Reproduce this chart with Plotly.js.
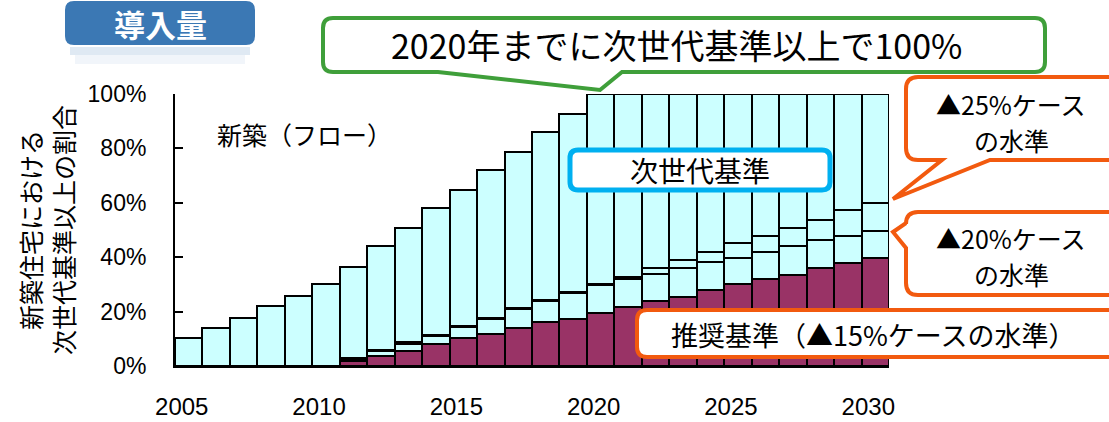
<!DOCTYPE html>
<html>
<head>
<meta charset="utf-8">
<script src="https://cdn.plot.ly/plotly-3.0.1.min.js"></script>
<style>
  html, body { margin: 0; padding: 0; background: #ffffff; }
  #chart { width: 1109px; height: 422px; }
</style>
</head>
<body>
<div id="chart"></div>
<script>
// ---- data (percent of new houses) ----
const years = [2005, 2006, 2007, 2008, 2009, 2010, 2011, 2012, 2013, 2014, 2015, 2016, 2017,
               2018, 2019, 2020, 2021, 2022, 2023, 2024, 2025, 2026, 2027, 2028, 2029, 2030];
// cumulative level reached by the recommended standard (▲15% case)
const level15 = [0, 0, 0, 0, 0, 0, 1.8, 3.7, 5.6, 8.0, 10.2, 11.7, 13.9,
                 16.0, 17.4, 19.6, 21.8, 23.9, 25.5, 27.9, 30.0, 32.0, 33.5, 35.9, 38.0, 39.6];
// cumulative level of the ▲20% case
const level20 = [0, 0, 0, 0, 0, 0, 2.4, 5.4, 8.2, 11.0, 14.4, 17.1, 20.8,
                 23.9, 26.8, 29.7, 32.0, 33.8, 35.9, 38.3, 39.6, 42.0, 44.2, 46.3, 47.9, 49.7];
// cumulative level of the ▲25% case
const level25 = [0, 0, 0, 0, 0, 0, 2.9, 6.0, 8.7, 11.4, 14.8, 17.5, 21.2,
                 24.3, 27.1, 30.1, 32.8, 36.1, 39.0, 42.0, 45.1, 47.9, 50.6, 53.7, 57.4, 60.0];
// total share at or above the next-generation standard
const total = [10.4, 13.9, 17.5, 22.0, 25.7, 30.1, 36.5, 44.2, 50.8, 58.2, 64.7, 72.0, 78.8,
               85.9, 92.6, 100, 100, 100, 100, 100, 100, 100, 100, 100, 100, 100];
const yTicks = [0, 20, 40, 60, 80, 100];
const yTickText = ['0%', '20%', '40%', '60%', '80%', '100%'];
const xTicks = [2005, 2010, 2015, 2020, 2025, 2030];

// ---- style ----
const CYAN = '#ccffff', MAROON = '#993366';
const ORANGE = '#f25a0f', GREEN = '#3f9f3a', BLUE = '#00b0f0';
const CJK = 'Noto Sans CJK JP, Noto Sans, sans-serif';
const LAT = 'Liberation Sans, Arial, sans-serif';

const diff = (a, b) => a.map((v, i) => +(v - b[i]).toFixed(2));
const barLine = { color: '#000000', width: 2 };

const traces = [
  { type: 'bar', x: years, y: level15, marker: { color: MAROON, line: barLine }, name: '推奨基準', hoverinfo: 'skip' },
  { type: 'bar', x: years, y: diff(level20, level15), marker: { color: CYAN, line: barLine }, name: '▲20%', hoverinfo: 'skip' },
  { type: 'bar', x: years, y: diff(level25, level20), marker: { color: CYAN, line: barLine }, name: '▲25%', hoverinfo: 'skip' },
  { type: 'bar', x: years, y: diff(total, level25), marker: { color: CYAN, line: barLine }, name: '次世代基準', hoverinfo: 'skip' }
];

// plot-area geometry in pixels (for annotation/callout placement)
const L = 175, T = 94, W = 714, H = 272;
const px = x => (x - L) / W;
const py = y => (T + H - y) / H;

// rounded-rectangle callout path, with optional tail points
function callout(x0, y0, x1, y1, r, bottomTail, leftTail) {
  const P = (x, y) => px(x).toFixed(5) + ',' + py(y).toFixed(5);
  let d = 'M' + P(x0 + r, y0) + ' L' + P(x1 - r, y0) + ' Q' + P(x1, y0) + ' ' + P(x1, y0 + r) +
          ' L' + P(x1, y1 - r) + ' Q' + P(x1, y1) + ' ' + P(x1 - r, y1);
  (bottomTail || []).forEach(p => { d += ' L' + P(p[0], p[1]); });
  d += ' L' + P(x0 + r, y1) + ' Q' + P(x0, y1) + ' ' + P(x0, y1 - r);
  (leftTail || []).forEach(p => { d += ' L' + P(p[0], p[1]); });
  d += ' L' + P(x0, y0 + r) + ' Q' + P(x0, y0) + ' ' + P(x0 + r, y0) + ' Z';
  return d;
}

const shapes = [
  // 導入量 header box and faint reflection
  { type: 'path', xref: 'paper', yref: 'paper', layer: 'above', path: callout(65, 1, 255, 45, 9),
    fillcolor: '#3b78b4', line: { width: 0 } },
  { type: 'rect', xref: 'paper', yref: 'paper', layer: 'above', x0: px(70), x1: px(250), y0: py(47), y1: py(55),
    fillcolor: 'rgba(59,120,180,0.16)', line: { width: 0 } },
  { type: 'rect', xref: 'paper', yref: 'paper', layer: 'above', x0: px(75), x1: px(245), y0: py(55), y1: py(64),
    fillcolor: 'rgba(59,120,180,0.07)', line: { width: 0 } },
  // green callout
  { type: 'path', xref: 'paper', yref: 'paper', layer: 'above',
    path: callout(323, 18, 1045, 72, 10, [[622, 72], [600, 90], [438, 72]]),
    fillcolor: '#ffffff', line: { color: GREEN, width: 4 } },
  // blue label
  { type: 'path', xref: 'paper', yref: 'paper', layer: 'above',
    path: callout(570, 150, 830, 190, 8),
    fillcolor: '#ffffff', line: { color: BLUE, width: 5 } },
  // orange: recommended standard
  { type: 'path', xref: 'paper', yref: 'paper', layer: 'above',
    path: callout(637, 310, 1125, 357, 10),
    fillcolor: '#ffffff', line: { color: ORANGE, width: 4 } },
  // orange: 25% case
  { type: 'path', xref: 'paper', yref: 'paper', layer: 'above',
    path: callout(906, 77, 1125, 160, 12, [[990, 160], [893, 199], [942, 160]]),
    fillcolor: '#ffffff', line: { color: ORANGE, width: 4 } },
  // orange: 20% case
  { type: 'path', xref: 'paper', yref: 'paper', layer: 'above',
    path: callout(906, 212, 1125, 295, 12, null, [[906, 248], [893, 232], [906, 223]]),
    fillcolor: '#ffffff', line: { color: ORANGE, width: 4 } }
];

function label(text, x, y, size, extra) {
  return Object.assign({ xref: 'paper', yref: 'paper', x: px(x), y: py(y), xanchor: 'center', yanchor: 'middle',
    showarrow: false, text: text, font: { family: CJK, size: size, color: '#000000' } }, extra || {});
}

const annotations = [
  label('<b>導入量</b>', 160, 23, 31, { font: { family: CJK, size: 31, color: '#ffffff' } }),
  label('新築（フロー）', 304, 134, 25),
  label('2020年までに次世代基準以上で100%', 676, 45, 34),
  label('次世代基準', 700, 170, 28),
  label('推奨基準（▲15%ケースの水準）', 873, 334, 27),
  label('▲25%ケース', 1011, 104, 25),
  label('の水準', 1011, 140, 25),
  label('▲20%ケース', 1011, 238, 25),
  label('の水準', 1011, 274, 25)
];

const layout = {
  width: 1109, height: 422,
  margin: { l: L, r: 1109 - L - W, t: T, b: 422 - T - H, pad: 0 },
  paper_bgcolor: '#ffffff', plot_bgcolor: '#ffffff',
  barmode: 'stack', bargap: 0, showlegend: false,
  font: { family: LAT, color: '#000000' },
  xaxis: {
    range: [2004.5, 2030.5], tickvals: xTicks, ticktext: xTicks.map(String),
    showline: true, linecolor: '#000000', linewidth: 2, ticks: '', showgrid: false, zeroline: false,
    tickfont: { family: LAT, size: 24, color: '#000000' }, ticklabelshift: -7, ticklabelstandoff: 18,
    fixedrange: true
  },
  yaxis: {
    range: [0, 100], tickvals: yTicks, ticktext: yTickText,
    showline: true, linecolor: '#000000', linewidth: 2, ticks: 'inside', ticklen: 8, tickwidth: 2, tickcolor: '#000000',
    showgrid: false, zeroline: false, ticklabelstandoff: 22,
    tickfont: { family: LAT, size: 23, color: '#000000' },
    title: { text: '新築住宅における<br>次世代基準以上の割合', font: { family: CJK, size: 25, color: '#000000' }, standoff: 6 },
    automargin: false, fixedrange: true
  },
  shapes: shapes,
  annotations: annotations
};

Plotly.newPlot('chart', traces, layout, { staticPlot: true, displayModeBar: false });
</script>
</body>
</html>
